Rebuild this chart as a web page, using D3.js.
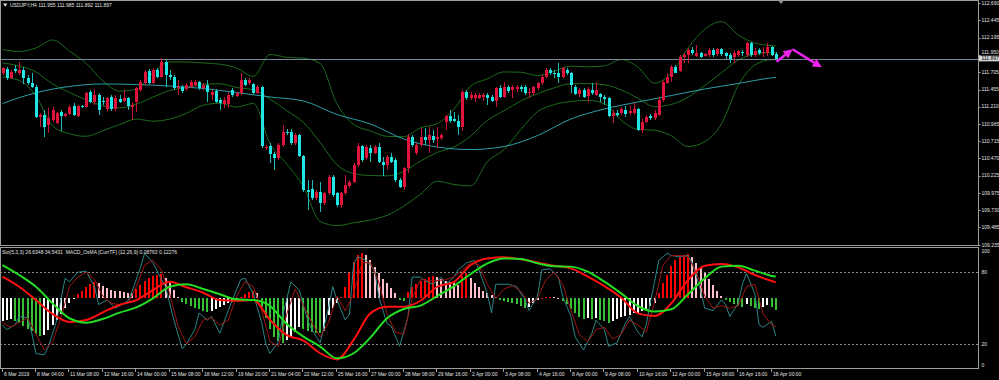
<!DOCTYPE html>
<html><head><meta charset="utf-8">
<script src="https://cdn.jsdelivr.net/npm/d3@7"></script>
<style>
html,body{margin:0;padding:0;background:#000;overflow:hidden}
svg{display:block}
text{font-family:"Liberation Sans",Arial,sans-serif;font-size:5px;fill:#e2e2e2}
</style></head><body>
<svg id="c" width="999" height="380"></svg>
<script>
// ---------------- DATA ----------------
const timeLabels = ["6 Mar 2019","8 Mar 04:00","11 Mar 08:00","12 Mar 16:00","14 Mar 00:00","15 Mar 08:00","18 Mar 12:00","19 Mar 20:00","21 Mar 04:00","22 Mar 12:00","25 Mar 16:00","27 Mar 00:00","28 Mar 08:00","29 Mar 16:00","2 Apr 00:00","3 Apr 08:00","4 Apr 16:00","8 Apr 00:00","9 Apr 08:00","10 Apr 16:00","12 Apr 00:00","15 Apr 08:00","16 Apr 16:00","18 Apr 00:00"];
const labelIdx = [0,8,16,24,32,40,48,56,64,72,80,88,96,104,112,120,128,136,144,152,160,168,176,184];
const priceTicks = [112.690,112.445,112.195,111.950,111.705,111.455,111.210,110.965,110.715,110.470,110.225,109.975,109.730,109.485,109.235];
const subTicks = [100,80,20,0];
const subLevels = [80,20];
const lastPrice = 111.897;

const open = [111.691,111.748,111.619,111.748,111.691,111.734,111.619,111.548,111.491,111.063,111.091,110.948,111.020,110.977,111.134,111.077,111.105,111.220,111.077,111.220,111.205,111.420,111.277,111.377,111.291,111.177,111.348,111.177,111.320,111.291,111.334,111.205,111.277,111.448,111.548,111.719,111.548,111.734,111.634,111.848,111.662,111.634,111.477,111.491,111.462,111.491,111.519,111.562,111.477,111.519,111.377,111.434,111.305,111.248,111.248,111.448,111.362,111.405,111.591,111.548,111.534,111.405,111.491,110.620,110.648,110.534,110.477,110.663,110.848,110.848,110.691,110.806,110.506,110.020,110.035,109.906,109.992,109.835,109.977,110.206,109.977,109.806,109.977,110.077,110.134,110.377,110.648,110.477,110.620,110.549,110.634,110.420,110.377,110.491,110.449,110.163,110.063,110.334,110.777,110.549,110.663,110.777,110.734,110.791,110.748,110.763,110.991,111.077,111.034,111.005,110.920,111.420,111.334,111.334,111.334,111.348,111.377,111.348,111.291,111.477,111.348,111.491,111.448,111.462,111.491,111.491,111.405,111.405,111.477,111.548,111.634,111.734,111.691,111.691,111.634,111.734,111.691,111.491,111.391,111.448,111.362,111.448,111.377,111.391,111.348,111.334,111.077,111.120,111.120,111.163,111.120,111.120,111.177,110.877,110.991,111.077,111.048,111.091,111.305,111.548,111.634,111.776,111.719,111.919,111.948,112.019,111.933,111.976,111.933,111.948,112.019,111.962,112.033,111.976,111.948,111.919,111.948,111.991,111.948,112.119,111.948,112.019,111.976,111.976,112.062,111.955];
const high = [111.776,111.776,111.734,111.805,111.848,111.776,111.662,111.691,111.519,111.120,111.163,111.191,111.205,111.134,111.163,111.120,111.234,111.262,111.234,111.234,111.420,111.448,111.462,111.405,111.348,111.348,111.377,111.377,111.377,111.448,111.348,111.277,111.491,111.591,111.734,111.748,111.762,111.762,111.905,111.877,111.734,111.662,111.591,111.519,111.548,111.591,111.591,111.577,111.548,111.591,111.448,111.462,111.334,111.348,111.420,111.477,111.420,111.691,111.619,111.619,111.548,111.519,111.505,110.663,110.691,110.563,110.691,110.948,110.891,110.891,110.834,110.820,110.520,110.163,110.163,110.020,110.134,109.992,110.234,110.234,109.992,109.992,110.234,110.163,110.406,110.691,110.663,110.663,110.663,110.663,110.691,110.491,110.520,110.549,110.477,110.192,110.349,110.820,110.806,110.691,110.906,110.906,110.920,110.877,110.920,110.834,111.091,111.163,111.134,111.091,111.448,111.448,111.420,111.405,111.405,111.405,111.405,111.377,111.491,111.519,111.562,111.519,111.519,111.519,111.519,111.519,111.477,111.505,111.562,111.662,111.762,111.762,111.734,111.834,111.776,111.762,111.705,111.519,111.477,111.477,111.491,111.548,111.562,111.405,111.377,111.348,111.163,111.163,111.205,111.220,111.220,111.262,111.191,111.034,111.091,111.105,111.163,111.348,111.591,111.691,111.805,111.805,111.948,111.976,112.048,112.062,112.091,111.991,111.976,112.048,112.048,112.048,112.048,111.991,111.976,112.019,112.019,112.019,112.133,112.133,112.048,112.048,112.062,112.119,112.076,111.985];
const low = [111.662,111.591,111.605,111.691,111.662,111.534,111.519,111.477,111.048,110.920,110.777,110.834,110.991,110.963,110.863,111.063,111.091,111.077,111.063,111.191,111.191,111.262,111.234,111.091,111.234,111.148,111.148,111.148,111.262,111.277,111.163,111.020,111.134,111.420,111.519,111.534,111.534,111.619,111.619,111.491,111.591,111.448,111.377,111.405,111.434,111.477,111.491,111.448,111.448,111.277,111.305,111.262,111.163,111.191,111.191,111.348,111.348,111.377,111.505,111.519,111.391,111.391,110.620,110.591,110.406,110.306,110.449,110.634,110.806,110.663,110.663,110.491,109.992,109.735,109.878,109.878,109.706,109.806,109.949,109.920,109.778,109.763,109.949,110.049,110.120,110.349,110.420,110.449,110.420,110.534,110.406,110.220,110.306,110.406,110.134,110.049,110.020,110.263,110.634,110.520,110.634,110.663,110.549,110.691,110.620,110.734,110.877,110.977,110.991,110.806,110.863,111.305,111.305,111.277,111.320,111.291,111.234,111.277,111.205,111.334,111.334,111.405,111.334,111.420,111.420,111.377,111.334,111.377,111.448,111.519,111.619,111.662,111.619,111.548,111.619,111.662,111.405,111.377,111.348,111.334,111.277,111.377,111.362,111.277,111.234,111.063,110.977,111.063,111.091,111.063,111.091,111.091,110.863,110.834,110.977,111.020,111.020,111.077,111.277,111.534,111.562,111.691,111.705,111.834,111.834,111.948,111.919,111.905,111.919,111.919,111.919,111.933,111.933,111.891,111.834,111.834,111.919,111.933,111.919,111.919,111.919,111.948,111.919,111.933,111.933,111.892];
const close = [111.762,111.619,111.705,111.719,111.734,111.619,111.548,111.491,111.063,111.091,110.920,111.048,111.163,111.120,111.077,111.105,111.205,111.091,111.220,111.205,111.405,111.277,111.377,111.163,111.277,111.334,111.177,111.334,111.277,111.334,111.220,111.234,111.477,111.562,111.705,111.548,111.734,111.634,111.848,111.662,111.634,111.477,111.491,111.434,111.519,111.562,111.562,111.477,111.519,111.420,111.420,111.277,111.262,111.305,111.377,111.377,111.405,111.591,111.519,111.591,111.405,111.491,110.648,110.634,110.534,110.477,110.663,110.848,110.834,110.691,110.806,110.506,110.020,109.992,109.906,109.992,109.835,109.977,110.206,109.949,109.806,109.977,110.092,110.134,110.377,110.648,110.449,110.634,110.549,110.634,110.420,110.377,110.491,110.420,110.163,110.063,110.334,110.777,110.663,110.663,110.777,110.734,110.806,110.734,110.777,110.806,111.077,111.005,111.005,110.920,111.420,111.334,111.377,111.377,111.377,111.377,111.334,111.291,111.477,111.348,111.491,111.434,111.491,111.491,111.462,111.405,111.420,111.491,111.548,111.634,111.734,111.691,111.676,111.634,111.762,111.691,111.519,111.391,111.448,111.348,111.462,111.405,111.448,111.348,111.320,111.077,111.120,111.091,111.177,111.105,111.148,111.177,110.877,110.991,111.063,111.048,111.120,111.305,111.562,111.634,111.776,111.691,111.919,111.948,112.019,111.976,111.976,111.919,111.962,112.019,111.948,112.033,111.962,111.933,111.891,111.976,112.005,111.976,112.119,111.948,112.005,111.976,111.991,112.062,111.948,111.897];

// Bollinger bands (20,2) read every 4 bars
const bbIdx = [0,4,8,12,16,20,24,28,32,36,40,44,48,52,56,60,64,68,72,76,80,84,88,92,96,100,104,108,112,116,120,124,128,132,136,140,144,148,152,156,160,164,168,172,176,180,184,185];
const bbUpper = [112.026,111.998,112.048,112.162,112.005,111.828,111.579,111.432,111.458,111.692,111.848,111.848,111.834,111.816,111.762,111.642,111.955,111.915,111.902,111.826,111.251,110.957,110.864,110.786,110.781,110.908,110.967,111.173,111.502,111.607,111.706,111.702,111.654,111.719,111.789,111.779,111.792,111.882,111.775,111.547,111.691,112.048,112.313,112.425,112.236,112.118,112.081,112.076];
const bbMiddle = [111.834,111.791,111.705,111.534,111.414,111.307,111.223,111.193,111.245,111.347,111.440,111.482,111.532,111.537,111.483,111.449,111.318,111.153,110.985,110.699,110.382,110.255,110.227,110.222,110.285,110.434,110.556,110.636,110.791,111.015,111.152,111.292,111.396,111.479,111.537,111.539,111.523,111.450,111.330,111.210,111.242,111.345,111.512,111.694,111.874,111.961,111.981,111.976];
const bbLower = [111.634,111.584,111.362,110.934,110.823,110.787,110.867,110.954,111.033,111.003,111.033,111.115,111.230,111.258,111.204,111.257,110.681,110.392,110.069,109.571,109.512,109.552,109.591,109.659,109.789,109.960,110.145,110.099,110.080,110.424,110.597,110.883,111.138,111.240,111.285,111.300,111.254,111.018,110.884,110.874,110.794,110.641,110.709,110.964,111.511,111.804,111.881,111.876];
// slow moving average (teal), read every 8 bars
const maIdx = [0,8,16,24,32,40,48,56,64,72,80,88,96,104,112,120,128,136,144,152,160,168,176,184,185];
const maValues = [111.255,111.409,111.498,111.534,111.526,111.505,111.469,111.412,111.348,111.291,111.098,110.963,110.748,110.634,110.598,110.641,110.798,111.034,111.177,111.277,111.369,111.462,111.541,111.622,111.629];

// Stochastic (5,3,3)
const stochMainIdx = [0,1,3,4,6,7,8,10,11,13,14,15,16,18,20,22,23,25,27,30,31,33,34,36,38,39,41,43,44,46,47,49,50,52,54,55,57,58,60,62,63,64,66,67,69,71,73,74,76,78,79,80,82,83,84,85,87,89,90,92,93,95,97,98,100,101,103,105,106,108,109,111,113,114,116,117,118,120,121,123,125,126,128,129,131,133,134,136,137,139,141,142,144,145,147,149,150,152,153,154,155,156,157,159,160,162,164,165,167,168,170,172,173,174,176,177,178,180,181,182,184,185];
const stochMain = [36,32,36,43,42,29,12,11,18,40,58,75,72,80,81,68,53,57,50,56,64,84,96,88,74,68,40,16,20,32,46,40,43,29,48,57,74,75,62,38,20,12,22,43,72,65,40,32,21,50,68,57,40,45,87,93,90,82,60,37,35,18,43,76,76,73,70,76,70,76,82,88,90,82,62,46,70,70,70,68,57,48,60,82,83,76,60,43,26,15,29,40,32,18,21,37,43,30,26,36,55,72,90,96,94,93,94,88,65,50,48,57,53,43,54,70,79,62,36,34,39,26.6];
const stochSigIdx = [0,2,4,6,8,10,12,14,16,18,20,22,24,26,28,30,32,34,36,38,40,42,44,46,48,50,52,54,56,58,60,62,64,66,68,70,72,74,76,78,80,82,84,86,88,90,92,94,96,98,100,102,104,106,108,110,112,114,116,118,120,122,124,126,128,130,132,134,136,138,140,142,144,146,148,150,152,154,156,158,160,162,164,166,168,170,172,174,176,178,180,182,184,185];
const stochSignal = [38,34,38,42,28,15,22,42,68,76,80,74,60,54,53,54,68,86,90,82,62,35,20,26,40,42,36,40,60,72,68,48,22,18,45,66,52,38,26,38,60,48,62,88,88,72,45,30,28,58,74,73,73,74,76,82,88,86,70,58,66,69,64,54,58,74,80,70,48,28,22,32,34,24,28,40,36,30,55,86,94,94,93,80,60,50,52,50,52,68,70,45,36,34.5];

// MACD_OsMA (12,26,9): lines every 4 bars, histogram per bar
const macdLine = [0.124,0.066,-0.010,-0.090,-0.135,-0.124,-0.080,-0.038,-0.010,0.047,0.095,0.063,0.032,-0.010,-0.014,-0.010,-0.124,-0.210,-0.242,-0.314,-0.349,-0.238,-0.086,-0.048,-0.048,-0.014,0.066,0.093,0.190,0.228,0.234,0.223,0.204,0.186,0.171,0.124,0.070,0.004,-0.086,-0.101,-0.029,0.105,0.186,0.196,0.177,0.133,0.099,0.091];
const macdSignal = [0.190,0.133,0.066,-0.029,-0.114,-0.139,-0.118,-0.082,-0.052,0.000,0.066,0.080,0.053,0.023,-0.006,-0.010,-0.044,-0.147,-0.219,-0.276,-0.343,-0.314,-0.225,-0.114,-0.061,-0.042,0.013,0.070,0.139,0.200,0.228,0.225,0.200,0.183,0.181,0.152,0.095,0.028,-0.044,-0.076,-0.063,0.023,0.114,0.181,0.186,0.158,0.128,0.124];
const osma = [-0.0673,-0.0634,-0.0595,-0.0653,-0.0731,-0.0809,-0.0887,-0.0965,-0.1043,-0.1101,-0.1062,-0.0926,-0.0780,-0.0634,-0.0458,-0.0292,-0.0146,-0.0029,0.0127,0.0224,0.0322,0.0419,0.0478,0.0439,0.0361,0.0292,0.0244,0.0224,0.0205,0.0185,0.0166,0.0146,0.0263,0.0390,0.0517,0.0595,0.0653,0.0692,0.0712,0.0585,0.0439,0.0244,0.0049,-0.0097,-0.0166,-0.0224,-0.0273,-0.0322,-0.0380,-0.0400,-0.0361,-0.0322,-0.0263,-0.0205,-0.0146,-0.0097,-0.0049,0.0049,0.0127,0.0185,0.0205,0.0146,-0.0244,-0.0585,-0.0906,-0.1121,-0.1238,-0.1296,-0.1218,-0.1101,-0.0975,-0.0848,-0.0906,-0.0945,-0.0984,-0.1004,-0.1023,-0.0965,-0.0487,-0.0292,-0.0146,0.0049,0.0341,0.0731,0.1072,0.1267,0.1316,0.1277,0.1121,0.0926,0.0750,0.0556,0.0439,0.0292,0.0146,-0.0049,-0.0078,0.0195,0.0322,0.0419,0.0497,0.0556,0.0614,0.0653,0.0614,0.0556,0.0517,0.0468,0.0439,0.0400,0.0653,0.0731,0.0585,0.0458,0.0322,0.0224,0.0146,0.0088,0.0039,-0.0049,-0.0078,-0.0107,-0.0146,-0.0175,-0.0224,-0.0283,-0.0244,-0.0146,-0.0049,0.0010,0.0029,0.0049,0.0039,0.0010,-0.0068,-0.0166,-0.0302,-0.0439,-0.0536,-0.0595,-0.0575,-0.0595,-0.0575,-0.0634,-0.0673,-0.0731,-0.0673,-0.0614,-0.0556,-0.0517,-0.0478,-0.0439,-0.0419,-0.0380,-0.0302,-0.0224,-0.0127,0.0146,0.0439,0.0682,0.0945,0.1121,0.1218,0.1277,0.1296,0.1199,0.1043,0.0877,0.0731,0.0575,0.0390,0.0224,0.0068,-0.0049,-0.0107,-0.0166,-0.0214,-0.0244,-0.0166,-0.0224,-0.0273,-0.0302,-0.0244,-0.0195,-0.0263,-0.0351];

// forecast arrows (bar index, price)
const arrowBars = [185.2, 189.0, 196.0];
const arrowPrices = [111.852, 112.029, 111.772];

// ---------------- DRAW ----------------
const svg = d3.select('#c');
const W = 999, H = 380;
const FRAME = '#9c9c9c';
svg.append('rect').attr('width', W).attr('height', H).attr('fill', '#000');

const x = d3.scaleLinear().domain([0, 185]).range([2.5, 775.8]);
const y = d3.scaleLinear().domain([109.235, 112.690]).range([245, 3]);
const yS = d3.scaleLinear().domain([0, 100]).range([367.9, 248.4]);
const yM = d3.scaleLinear().domain([-0.4, 0.4]).range([368.3, 228.3]);
const yH = d3.scaleLinear().domain([-0.2, 0.2]).range([366.7, 229.9]);

const defs = svg.append('defs');
defs.append('clipPath').attr('id', 'cm').append('rect').attr('x', 1).attr('y', 1).attr('width', 977).attr('height', 244);
defs.append('clipPath').attr('id', 'cs').append('rect').attr('x', 1).attr('y', 248).attr('width', 977).attr('height', 120);

// ---- main panel
const gm = svg.append('g').attr('clip-path', 'url(#cm)');

const bbLine = d3.line().x((d, i) => x(bbIdx[i])).y(d => y(d)).curve(d3.curveMonotoneX);
[bbUpper, bbMiddle, bbLower].forEach(arr => {
  gm.append('path').attr('d', bbLine(arr)).attr('fill', 'none').attr('stroke', '#1d6b1d').attr('stroke-width', 1);
});
const maLine = d3.line().x((d, i) => x(maIdx[i])).y(d => y(d)).curve(d3.curveMonotoneX);
gm.append('path').attr('d', maLine(maValues)).attr('fill', 'none').attr('stroke', '#2a9fa8').attr('stroke-width', 1);

// current price line
gm.append('line').attr('x1', 0).attr('x2', 978).attr('y1', Math.round(y(lastPrice)) + 0.5).attr('y2', Math.round(y(lastPrice)) + 0.5)
  .attr('stroke', '#778899').attr('stroke-width', 1);

// candles
const bars = d3.range(open.length);
const gc = gm.append('g').attr('shape-rendering', 'crispEdges');
gc.selectAll('line.w').data(bars).join('line').attr('class', 'w')
  .attr('x1', i => Math.round(x(i)) + 0.5).attr('x2', i => Math.round(x(i)) + 0.5)
  .attr('y1', i => y(high[i])).attr('y2', i => y(low[i]))
  .attr('stroke', i => close[i] >= open[i] ? '#c8143a' : '#1fbcbc').attr('stroke-width', 1);
gc.selectAll('rect.b').data(bars).join('rect').attr('class', 'b')
  .attr('x', i => Math.round(x(i)) - 1).attr('width', 3)
  .attr('y', i => y(Math.max(open[i], close[i])))
  .attr('height', i => Math.max(1, Math.abs(y(open[i]) - y(close[i]))))
  .attr('fill', i => close[i] >= open[i] ? '#e0143c' : '#20e6e6');

// forecast arrows
const ga = svg.append('g');
function arrow(i0, i1) {
  const x0 = x(arrowBars[i0]), y0 = y(arrowPrices[i0]), x1 = x(arrowBars[i1]), y1 = y(arrowPrices[i1]);
  const a = Math.atan2(y1 - y0, x1 - x0), L = 9, Wd = 4.5;
  const bx = x1 - L * Math.cos(a), by = y1 - L * Math.sin(a);
  ga.append('line').attr('x1', x0).attr('y1', y0).attr('x2', bx).attr('y2', by).attr('stroke', '#ee22ee').attr('stroke-width', 2.5);
  const pts = [[x1, y1], [bx + Wd * Math.sin(a), by - Wd * Math.cos(a)], [bx - Wd * Math.sin(a), by + Wd * Math.cos(a)]];
  ga.append('polygon').attr('points', pts.map(p => p.join(',')).join(' ')).attr('fill', '#ee22ee');
}
arrow(0, 1); arrow(1, 2);

// ---- sub panel
const gs = svg.append('g').attr('clip-path', 'url(#cs)');
subLevels.forEach(v => {
  gs.append('line').attr('x1', 0).attr('x2', 978).attr('y1', Math.round(yS(v)) + 0.5).attr('y2', Math.round(yS(v)) + 0.5)
    .attr('stroke', '#8a8a8a').attr('stroke-width', 1).attr('stroke-dasharray', '2,2');
});
const gh = gs.append('g').attr('shape-rendering', 'crispEdges');
gh.selectAll('rect').data(bars).join('rect')
  .attr('x', i => Math.round(x(i)) - 1).attr('width', 2)
  .attr('y', i => Math.min(yH(0), yH(osma[i])))
  .attr('height', i => Math.max(1, Math.abs(yH(osma[i]) - yH(0))))
  .attr('fill', i => {
    const v = osma[i], p = i > 0 ? osma[i - 1] : v;
    if (v >= 0) return v >= p ? '#ff0000' : '#ffc0cb';
    return v < p ? '#34c234' : '#ffffff';
  });

const stL = d3.line().x(d => x(d[0])).y(d => yS(d[1]));
gs.append('path').attr('d', stL(stochMainIdx.map((b, i) => [b, stochMain[i]]))).attr('fill', 'none').attr('stroke', '#2b8585').attr('stroke-width', 1);
gs.append('path').attr('d', stL(stochSigIdx.map((b, i) => [b, stochSignal[i]]))).attr('fill', 'none').attr('stroke', '#a01414').attr('stroke-width', 1);

const mL = d3.line().x((d, i) => x(bbIdx[i])).y(d => yM(d)).curve(d3.curveMonotoneX);
gs.append('path').attr('d', mL(macdLine)).attr('fill', 'none').attr('stroke', '#ff1010').attr('stroke-width', 2);
gs.append('path').attr('d', mL(macdSignal)).attr('fill', 'none').attr('stroke', '#22dd22').attr('stroke-width', 2);

// ---- frames
svg.append('rect').attr('x', 0.5).attr('y', 0.5).attr('width', 978).attr('height', 245).attr('fill', 'none').attr('stroke', FRAME);
svg.append('rect').attr('x', 0.5).attr('y', 247.5).attr('width', 978).attr('height', 121).attr('fill', 'none').attr('stroke', FRAME);

// shift marker
svg.append('polygon').attr('points', '778,0.5 784,0.5 781,4').attr('fill', '#8c8c8c');

// right price axis
const gr = svg.append('g');
const ly = y(lastPrice);
priceTicks.forEach(v => {
  const yy = y(v);
  gr.append('line').attr('x1', 978.5).attr('x2', 980.5).attr('y1', Math.round(yy) + 0.5).attr('y2', Math.round(yy) + 0.5).attr('stroke', FRAME);
  const ty = Math.abs(yy - ly) < 6.2 ? ly - 6.2 : yy;
  gr.append('text').attr('x', 981.5).attr('y', ty).attr('dy', '0.35em').text(v.toFixed(3));
});
gr.append('rect').attr('x', 979).attr('y', ly - 2.8).attr('width', 20).attr('height', 5.6).attr('fill', '#d6d6d6');
gr.append('text').attr('x', 981.5).attr('y', ly).attr('dy', '0.35em').style('fill', '#000').text(lastPrice.toFixed(3));

subTicks.forEach(v => {
  let yy = yS(v);
  if (v === 100) yy = 251; if (v === 0) yy = 365.5;
  gr.append('text').attr('x', 981.5).attr('y', yy).attr('dy', '0.35em').text(v);
});

// time axis
const gt = svg.append('g');
labelIdx.forEach((b, k) => {
  const xx = Math.round(x(b)) - 0.5;
  gt.append('line').attr('x1', xx).attr('x2', xx).attr('y1', 368.5).attr('y2', 372).attr('stroke', FRAME);
  gt.append('text').attr('x', xx + 1.5).attr('y', 375.5).text(timeLabels[k]);
});

// titles
svg.append('polygon').attr('points', '3,3.5 7.5,3.5 5.25,6.8').attr('fill', '#e0e0e0');
svg.append('text').attr('x', 10).attr('y', 7).text('USDJPY,H4  111.955 111.985 111.892 111.897');
svg.append('text').attr('x', 2).attr('y', 253.5).attr('xml:space', 'preserve').text('Sto(5,3,3) 26.6348 34.5431  MACD_OsMA [CurrTF] (12,26,9) 0.08763 0.12276');
</script>
</body></html>
